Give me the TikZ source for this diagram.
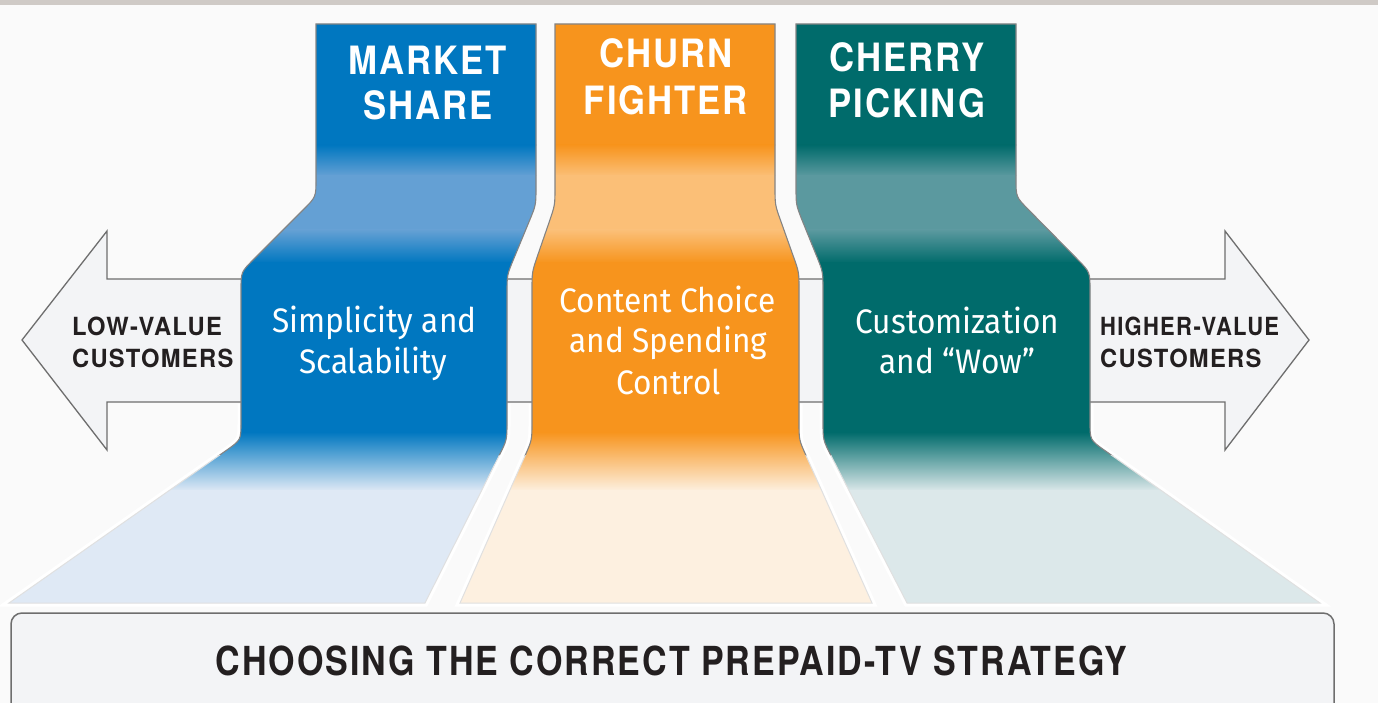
\documentclass[tikz,border=0pt]{standalone}
\usepackage{fontspec}
\setmainfont{TeX Gyre Heros}
\newfontfamily\headfont[FakeStretch=0.89,LetterSpace=5]{TeX Gyre Heros}
\newfontfamily\titlefont[FakeStretch=0.85,LetterSpace=5]{TeX Gyre Heros}
\newfontfamily\labelfont[FakeStretch=0.95,LetterSpace=5]{TeX Gyre Heros}
\newfontfamily\labelfontnarrow[FakeStretch=0.88,LetterSpace=5]{TeX Gyre Heros}
\newfontfamily\bodyfont[FakeStretch=0.93]{Fira Sans}

\definecolor{bgc}{HTML}{FAFAFA}
\definecolor{topband}{HTML}{CFCAC6}
\definecolor{blueA}{HTML}{0077C0}
\definecolor{blueL}{HTML}{64A0D4}
\definecolor{blueP}{HTML}{DFE9F5}
\definecolor{orA}{HTML}{F7941D}
\definecolor{orL}{HTML}{FBBF77}
\definecolor{orP}{HTML}{FDF0E0}
\definecolor{teA}{HTML}{006B6B}
\definecolor{teL}{HTML}{5B999F}
\definecolor{teP}{HTML}{DCE8EA}
\definecolor{panel}{HTML}{F3F4F6}
\definecolor{edge}{HTML}{6E6E6E}
\definecolor{ink}{HTML}{231F20}

\tikzset{
  pathms/.style={insert path={(316,24) -- (536,24) -- (536,187)
    .. controls (536,205) .. (529.1,221.6) -- (513.9,258.4)
    .. controls (507,275) .. (507,293) -- (507,422)
    .. controls (507,440) .. (498.9,456.1) -- (425,603) -- (9,603)
    -- (226.3,450.4) .. controls (241,440) .. (241,422) -- (241,290)
    .. controls (241,272) .. (253.7,259.3) -- (303.3,209.7)
    .. controls (316,197) .. (316,179) -- cycle}},
  pathcf/.style={insert path={(555,24) -- (775,24) -- (775,187)
    .. controls (775,205) .. (781.1,221.9) -- (792.9,255.1)
    .. controls (799,272) .. (799,290) -- (799,422)
    .. controls (799,440) .. (806.4,456.4) -- (872,603) -- (460,603)
    -- (524.7,456.5) .. controls (532,440) .. (532,422) -- (532,290)
    .. controls (532,272) .. (537.8,255) -- (549.2,222)
    .. controls (555,205) .. (555,187) -- cycle}},
  pathcp/.style={insert path={(796,24) -- (1016,24) -- (1016,179)
    .. controls (1016,197) .. (1028.6,209.8) -- (1077.4,259.2)
    .. controls (1090,272) .. (1090,290) -- (1090,422)
    .. controls (1090,440) .. (1104.7,450.4) -- (1320,603) -- (907,603)
    -- (831.2,456) .. controls (823,440) .. (823,422) -- (823,290)
    .. controls (823,272) .. (816.3,255.3) -- (802.7,221.7)
    .. controls (796,205) .. (796,187) -- cycle}},
  stripline/.style={draw=edge!85, line width=1.1pt},
  paleline/.style={draw=black!12, line width=1pt},
  halo/.style={draw=white, line width=7pt},
  headtext/.style={text=white, anchor=base, inner sep=0pt,
    font=\headfont\bfseries\fontsize{39}{46}\selectfont},
  bodytext/.style={text=white, anchor=base, inner sep=0pt,
    font=\bodyfont\fontsize{34}{40}\selectfont},
  sidetext/.style={text=ink, anchor=base west, inner sep=0pt,
    font=\labelfont\bfseries\fontsize{25}{30}\selectfont},
  sidetextnarrow/.style={text=ink, anchor=base west, inner sep=0pt,
    font=\labelfontnarrow\bfseries\fontsize{25}{30}\selectfont},
  titletext/.style={text=ink, anchor=base, inner sep=0pt,
    font=\titlefont\bfseries\fontsize{40}{48}\selectfont},
}

% one strategy strip: solid top, light neck band, solid body, pale foot
\newcommand\stripfill[4]{%
  \begin{scope}
    \clip[#1];
    \fill[#2] (0,20) rectangle (1378,146);
    \shade[top color=#2, bottom color=#3] (0,145) rectangle (1378,176);
    \fill[#3] (0,175) rectangle (1378,231);
    \shade[top color=#3, bottom color=#2] (0,230) rectangle (1378,263);
    \fill[#2] (0,262) rectangle (1378,433);
    \shade[top color=#2, bottom color=#4] (0,432) rectangle (1378,491);
    \fill[#4] (0,490) rectangle (1378,610);
  \end{scope}
  \begin{scope}
    \clip (0,0) rectangle (1378,455);
    \path[stripline,#1];
  \end{scope}
  \begin{scope}
    \clip (0,455) rectangle (1378,703);
    \path[paleline,#1];
  \end{scope}}

% white margin round a strip, below the arrow shaft only
\newcommand\striphalo[1]{%
  \begin{scope}
    \clip (0,404) rectangle (1378,607);
    \path[halo,#1];
  \end{scope}}

\begin{document}
\begin{tikzpicture}[x=1pt,y=-1pt]
\useasboundingbox (0,0) rectangle (1378,703);
\begin{scope}
\clip (0,0) rectangle (1378,703);
\fill[bgc] (0,0) rectangle (1378,703);
\fill[topband] (0,0) rectangle (1378,5);

% double-headed value arrow behind the strips
\draw[fill=panel, draw=edge, line width=1.3pt, line join=miter]
  (22,340) -- (107,231) -- (107,279) -- (1225,279) -- (1225,231)
  -- (1309,340) -- (1225,450) -- (1225,402) -- (107,402) -- (107,450) -- cycle;

% the three strategy strips
\striphalo{pathms}
\striphalo{pathcf}
\striphalo{pathcp}
\stripfill{pathms}{blueA}{blueL}{blueP}
\stripfill{pathcf}{orA}{orL}{orP}
\stripfill{pathcp}{teA}{teL}{teP}

% caption bar
\draw[fill=panel, draw=edge, line width=1.5pt, rounded corners=11pt]
  (11,613) rectangle (1334,730);
\end{scope}

% strip headings
\node[headtext] (ms1) at (428,75) {MARKET};
\node[headtext] (ms2) at (428,120) {SHARE};
\node[headtext] (cf1) at (666,68) {CHURN};
\node[headtext] (cf2) at (666,115) {FIGHTER};
\node[headtext] (cp1) at (907,72) {CHERRY};
\node[headtext] (cp2) at (907,118) {PICKING};

% strip descriptions
\node[bodytext] (msb1) at (374.5,332) {Simplicity and};
\node[bodytext] (msb2) at (373,373) {Scalability};
\node[bodytext] (cfb1) at (667.5,312) {Content Choice};
\node[bodytext] (cfb2) at (668.5,352) {and Spending};
\node[bodytext] (cfb3) at (668.5,394) {Control};
\node[bodytext] (cpb1) at (957.5,333) {Customization};
\node[bodytext] (cpb2) at (957.5,373) {and “Wow”};

% arrow end labels
\node[sidetext] (lo1) at (72,335) {LOW-VALUE};
\node[sidetext] (lo2) at (72,367) {CUSTOMERS};
\node[sidetextnarrow] (hi1) at (1100,335) {HIGHER-VALUE};
\node[sidetext] (hi2) at (1100,367) {CUSTOMERS};

% caption
\node[titletext] (title) at (671.5,675) {CHOOSING THE CORRECT PREPAID-TV STRATEGY};
\end{tikzpicture}
\end{document}
